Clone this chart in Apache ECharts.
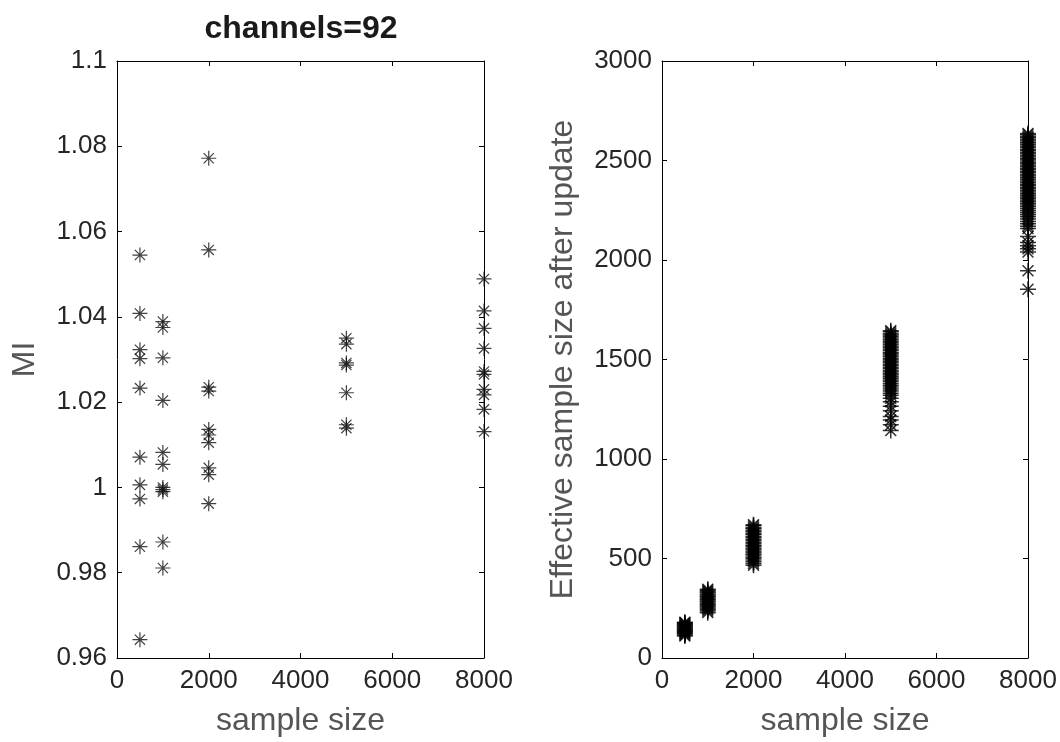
<!DOCTYPE html>
<html>
<head>
<meta charset="utf-8">
<script src="https://cdn.jsdelivr.net/npm/echarts@6/dist/echarts.min.js"></script>
<style>
html,body{margin:0;padding:0;background:#fff;}
#chart{width:1060px;height:742px;}
</style>
</head>
<body>
<div id="chart"></div>
<script>
// ---- data ----
const titleText = 'channels=92';
const xName = 'sample size';
const yNameLeft = 'MI';
const yNameRight = 'Effective sample size after update';
const sampleSizes = [500, 1000, 2000, 5000, 8000];

// MI values per sample size (left panel)
const mi500  = [1.0545, 1.0408, 1.0323, 1.0302, 1.0233, 1.0071, 1.0006, 0.9973, 0.9861, 0.9643];
const mi1000 = [1.0389, 1.0375, 1.0304, 1.0204, 1.0082, 1.0054, 1.0000, 0.9995, 0.9990, 0.9872, 0.9811];
const mi2000 = [1.0772, 1.0557, 1.0235, 1.0226, 1.0136, 1.0123, 1.0105, 1.0046, 1.0030, 0.9962];
const mi5000 = [1.0350, 1.0336, 1.0292, 1.0287, 1.0222, 1.0147, 1.0139];
const mi8000 = [1.0489, 1.0414, 1.0373, 1.0326, 1.0272, 1.0265, 1.0230, 1.0217, 1.0183, 1.0131];

// Effective sample size after update per sample size (right panel)
const ess500  = [180, 177, 172, 169, 164, 161, 156, 153, 148, 145, 140, 137, 132, 129, 124, 120, 115, 110];
const ess1000 = [346, 341, 334, 329, 322, 317, 310, 305, 298, 293, 286, 281, 274, 269, 262, 256, 250, 243, 236, 228];
const ess2000 = [670, 664, 655, 649, 641, 634, 626, 620, 611, 605, 597, 590, 582, 576, 567, 561, 553, 546, 538, 532, 523, 517, 508, 501, 492, 484, 475, 466];
const ess5000 = [1645, 1639, 1630, 1623, 1615, 1608, 1599, 1592, 1584, 1577, 1568, 1561, 1553, 1546, 1537, 1530, 1522, 1515, 1506, 1499, 1491, 1484, 1475, 1468, 1460, 1453, 1444, 1437, 1429, 1422, 1413, 1406, 1397, 1389, 1380, 1371, 1362, 1352, 1342, 1331, 1320, 1305, 1288, 1265, 1243, 1214, 1196, 1172, 1143];
const ess8000 = [2636, 2630, 2621, 2614, 2605, 2598, 2589, 2582, 2573, 2566, 2557, 2550, 2541, 2534, 2525, 2518, 2509, 2502, 2493, 2486, 2477, 2470, 2461, 2454, 2445, 2438, 2429, 2422, 2413, 2406, 2397, 2390, 2381, 2374, 2365, 2358, 2349, 2342, 2333, 2326, 2317, 2310, 2301, 2294, 2285, 2276, 2267, 2258, 2248, 2238, 2228, 2217, 2206, 2194, 2182, 2170, 2158, 2118, 2088, 2072, 2056, 2040, 1946, 1853];

const leftX = {min: 0, max: 8000, interval: 2000};
const leftY = {min: 0.96, max: 1.1, interval: 0.02};
const rightY = {min: 0, max: 3000, interval: 500};

// ---- build ----
const miGroups = [mi500, mi1000, mi2000, mi5000, mi8000];
const essGroups = [ess500, ess1000, ess2000, ess5000, ess8000];
function pairs(groups) {
  const out = [];
  groups.forEach((g, i) => g.forEach(v => out.push([sampleSizes[i], v])));
  return out;
}

const FONT = '"Liberation Sans", Arial, Helvetica, sans-serif';
const star = 'path://M5,0L5,10M0,5L10,5M1.6,1.6L8.4,8.4M1.6,8.4L8.4,1.6';
const tickColor = '#262626';
const nameColor = '#555555';
const NAME_SIZE = 32;

function plain(v) { return String(parseFloat(Number(v).toFixed(4))); }

function mainX(gridIndex, r) {
  return {
    type: 'value', gridIndex, min: r.min, max: r.max, interval: r.interval,
    name: xName, nameLocation: 'middle', nameGap: 47,
    nameTextStyle: {fontFamily: FONT, fontSize: NAME_SIZE, color: nameColor},
    axisLine: {onZero: false, lineStyle: {color: '#000', width: 1}},
    axisTick: {inside: true, length: 5, lineStyle: {color: '#000'}},
    axisLabel: {fontFamily: FONT, fontSize: 26, color: tickColor, margin: 10, formatter: plain},
    splitLine: {show: false}
  };
}
function topX(gridIndex, r) {
  return {
    type: 'value', gridIndex, position: 'top', min: r.min, max: r.max, interval: r.interval,
    axisLine: {onZero: false, lineStyle: {color: '#000', width: 1}},
    axisTick: {inside: true, length: 5, lineStyle: {color: '#000'}},
    axisLabel: {show: false}, splitLine: {show: false}
  };
}
function mainY(gridIndex, r, name, gap) {
  return {
    type: 'value', gridIndex, min: r.min, max: r.max, interval: r.interval,
    name, nameLocation: 'middle', nameGap: gap,
    nameTextStyle: {fontFamily: FONT, fontSize: NAME_SIZE, color: nameColor},
    axisLine: {onZero: false, lineStyle: {color: '#000', width: 1}},
    axisTick: {inside: true, length: 5, lineStyle: {color: '#000'}},
    axisLabel: {fontFamily: FONT, fontSize: 26, color: tickColor, margin: 10, formatter: plain},
    splitLine: {show: false}
  };
}
function rightYAxis(gridIndex, r) {
  return {
    type: 'value', gridIndex, position: 'right', min: r.min, max: r.max, interval: r.interval,
    axisLine: {onZero: false, lineStyle: {color: '#000', width: 1}},
    axisTick: {inside: true, length: 5, lineStyle: {color: '#000'}},
    axisLabel: {show: false}, splitLine: {show: false}
  };
}

const chart = echarts.init(document.getElementById('chart'), null, {renderer: 'canvas'});
chart.setOption({
  backgroundColor: '#fff',
  animation: false,
  title: {
    text: titleText, left: 296, top: 8, textAlign: 'center',
    textStyle: {fontFamily: FONT, fontSize: 32, fontWeight: 'bold', color: '#1a1a1a'}
  },
  grid: [
    {left: 117, top: 61, width: 367, height: 597, containLabel: false},
    {left: 662, top: 61, width: 366, height: 598, containLabel: false}
  ],
  xAxis: [mainX(0, leftX), topX(0, leftX), mainX(1, leftX), topX(1, leftX)],
  yAxis: [
    mainY(0, leftY, yNameLeft, 76), rightYAxis(0, leftY),
    mainY(1, rightY, yNameRight, 83), rightYAxis(1, rightY)
  ],
  series: [
    {type: 'scatter', xAxisIndex: 0, yAxisIndex: 0, data: pairs(miGroups),
     symbol: star, symbolSize: 15,
     itemStyle: {color: 'rgba(0,0,0,0)', borderColor: '#111', borderWidth: 1.2}, silent: true},
    {type: 'scatter', xAxisIndex: 2, yAxisIndex: 2, data: pairs(essGroups),
     symbol: star, symbolSize: 16,
     itemStyle: {color: 'rgba(0,0,0,0)', borderColor: '#000', borderWidth: 1.5}, silent: true}
  ]
});
</script>
</body>
</html>
